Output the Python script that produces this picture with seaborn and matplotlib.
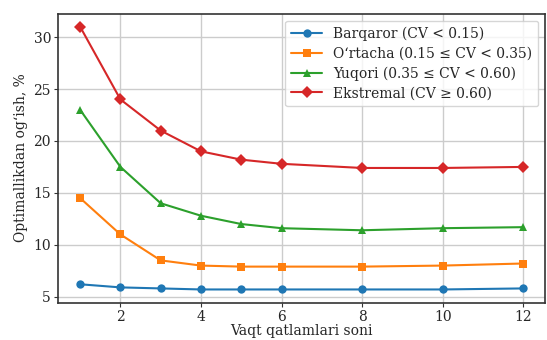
import matplotlib
matplotlib.use("Agg")
import matplotlib.pyplot as plt
import seaborn as sns
import pandas as pd

layers = [1, 2, 3, 4, 5, 6, 8, 10, 12]
stable = [6.2, 5.9, 5.8, 5.7, 5.7, 5.7, 5.7, 5.7, 5.8]
medium = [14.5, 11.0, 8.5, 8.0, 7.9, 7.9, 7.9, 8.0, 8.2]
high = [23.0, 17.5, 14.0, 12.8, 12.0, 11.6, 11.4, 11.6, 11.7]
extreme = [31.0, 24.0, 21.0, 19.0, 18.2, 17.8, 17.4, 17.4, 17.5]
labels = [
    "Barqaror (CV < 0.15)",
    "O‘rtacha (0.15 ≤ CV < 0.35)",
    "Yuqori (0.35 ≤ CV < 0.60)",
    "Ekstremal (CV ≥ 0.60)",
]

df = pd.concat([
    pd.DataFrame({"layers": layers, "dev": vals, "group": lab})
    for vals, lab in zip([stable, medium, high, extreme], labels)
])

sns.set_theme(style="whitegrid")
plt.rcParams["font.family"] = ["DejaVu Serif"]
plt.rcParams["axes.edgecolor"] = "#333333"
plt.rcParams["grid.color"] = "#cccccc"

fig, ax = plt.subplots(figsize=(5.47, 3.4), dpi=100)
palette = ["#1f77b4", "#ff7f0e", "#2ca02c", "#d62728"]
markers = ["o", "s", "^", "D"]
sns.lineplot(data=df, x="layers", y="dev", hue="group", style="group",
             markers=markers, dashes=False, palette=palette, ax=ax,
             markersize=6, linewidth=1.5, markeredgewidth=0)

ax.set_xlabel("Vaqt qatlamlari soni", fontsize=10, labelpad=0)
ax.set_ylabel("Optimallikdan og‘ish, %", fontsize=10)
ax.set_xticks([2, 4, 6, 8, 10, 12])
ax.set_yticks([5, 10, 15, 20, 25, 30])
ax.tick_params(labelsize=10, length=3, width=0.8, pad=2, left=True, bottom=True, color="#333333")
for s in ax.spines.values():
    s.set_linewidth(1.2)
ax.legend(title=None, loc="upper right", fontsize=10, frameon=True,
          handlelength=2.2, borderpad=0.45, labelspacing=0.4)

fig.subplots_adjust(left=0.106, right=0.997, top=0.96, bottom=0.11)
fig.savefig("out.png", dpi=100)
